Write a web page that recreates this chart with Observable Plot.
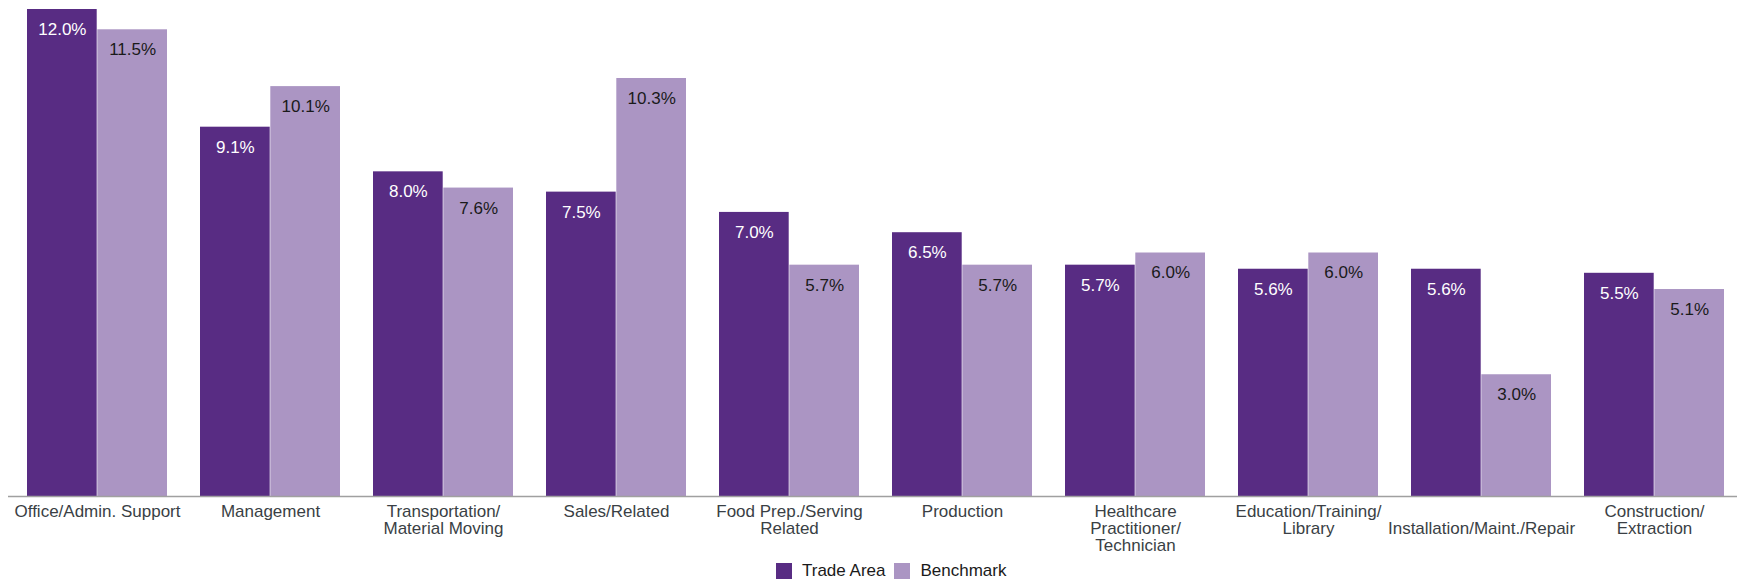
<!DOCTYPE html>
<html><head><meta charset="utf-8">
<script src="https://cdn.jsdelivr.net/npm/d3@7"></script>
<script src="https://cdn.jsdelivr.net/npm/@observablehq/plot@0.6"></script>
<style>
body{margin:0;background:#fff;font-family:"Liberation Sans",Arial,sans-serif;}
#chart svg{display:block}
#legend{display:flex;align-items:center;padding-left:776px;margin-top:7px;font-size:17px;color:#1a1a1a;height:16px;line-height:16px}
.sw{width:16px;height:16px;margin-right:10px}
.lab{margin-right:9px}
</style></head><body>
<div id="chart"></div>
<div id="legend"></div>
<script>
const categories = ["Office/Admin. Support","Management","Transportation/Material Moving","Sales/Related","Food Prep./Serving Related","Production","Healthcare Practitioner/Technician","Education/Training/Library","Installation/Maint./Repair","Construction/Extraction"];
const tickLabels = ["Office/Admin. Support","Management","Transportation/\nMaterial Moving","Sales/Related","Food Prep./Serving\nRelated","Production","Healthcare\nPractitioner/\nTechnician","Education/Training/\nLibrary","\u00a0\nInstallation/Maint./Repair","Construction/\nExtraction"];
const tradeArea = [12.0, 9.1, 8.0, 7.5, 7.0, 6.5, 5.7, 5.6, 5.6, 5.5];
const benchmark = [11.5, 10.1, 7.6, 10.3, 5.7, 5.7, 6.0, 6.0, 3.0, 5.1];
const seriesNames = ["Trade Area","Benchmark"];
const seriesColors = ["#582c83","#ab95c3"];
const valueLabelColors = ["#ffffff","#1a1a1a"];

const trade = categories.map((c,i)=>({category:c, series:seriesNames[0], value:tradeArea[i]}));
const bench = categories.map((c,i)=>({category:c, series:seriesNames[1], value:benchmark[i]}));
const fmt = d => d.value.toFixed(1) + "%";
const half = 70.3;
const font = '"Liberation Sans", Arial, sans-serif';

const chart = Plot.plot({
  width: 1737, height: 556,
  marginLeft: 8, marginRight: 0, marginTop: 9, marginBottom: 60,
  style: {fontFamily: font, fontSize: "17px", background: "#fff"},
  x: {domain: categories, paddingInner: 0.19, paddingOuter: 0.0763, align: 0.6, label: null},
  y: {domain: [0, 12], axis: null},
  marks: [
    Plot.barY(trade, {x: "category", y: "value", fill: seriesColors[0], insetRight: half}),
    Plot.barY(bench, {x: "category", y: "value", fill: seriesColors[1], insetLeft: half}),
    Plot.text(trade, {x: "category", y: "value", text: fmt, dx: -half/2, dy: 20, fill: valueLabelColors[0], fontSize: 17}),
    Plot.text(bench, {x: "category", y: "value", text: fmt, dx: half/2, dy: 20, fill: valueLabelColors[1], fontSize: 17}),
    Plot.ruleY([0], {stroke: "#a0a0a0", strokeWidth: 1.6}),
    Plot.axisX({tickSize: 0, tickPadding: 8, fontSize: 17, color: "#3a3f45", lineHeight: 1.02, label: null,
      tickFormat: c => tickLabels[categories.indexOf(c)]})
  ]
});
document.getElementById("chart").append(chart);

const legend = document.getElementById("legend");
seriesNames.forEach((n,i)=>{
  const sw = document.createElement("span"); sw.className="sw"; sw.style.background = seriesColors[i];
  const lab = document.createElement("span"); lab.className="lab"; lab.textContent = n;
  legend.append(sw, lab);
});
</script>
</body></html>
